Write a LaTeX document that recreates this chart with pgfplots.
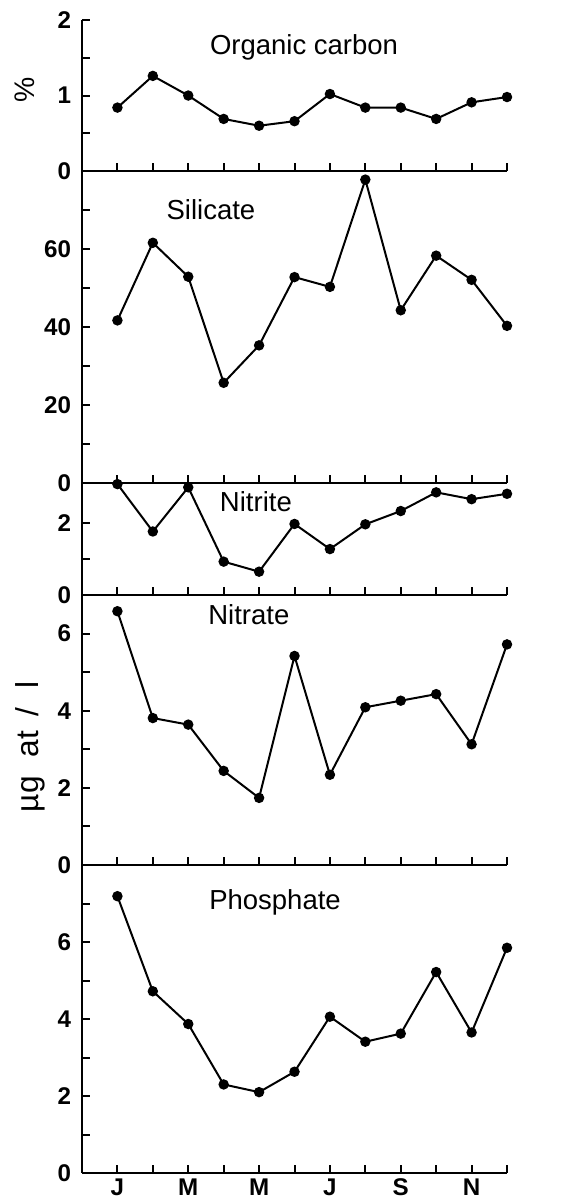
\documentclass[border=0pt]{standalone}
\usepackage{fontspec}
\setmainfont{Liberation Sans}
\usepackage{pgfplots}
\pgfplotsset{compat=1.18}

\pgfplotsset{
  panel/.style={
    scale only axis, width=255pt, xmin=0, xmax=12,
    axis x line*=bottom, axis y line*=left,
    axis line style={line width=1.3pt, black},
    tick style={line width=1.2pt, black},
    major tick length=5pt, minor tick length=5pt,
    tick align=inside,
    xtick={1,...,12}, xticklabels={,,,,,,,,,,,},
    tick label style={font=\fontsize{14.5}{14.5}\selectfont\bfseries},
    yticklabel style={xshift=-3pt},
    /pgf/number format/assume math mode=true,
    clip=false,
  },
  series/.style={black, line width=1.2pt, mark=*, mark size=2.5pt,
    mark options={solid, fill=black}},
}
\tikzset{ttl/.style={font=\fontsize{16.5}{16.5}\selectfont}}

\begin{document}
\begin{tikzpicture}
\useasboundingbox (0pt,0pt) rectangle (339pt,721.8pt);

% Phosphate
\begin{axis}[panel, name=phos, at={(49.2pt,18pt)}, anchor=south west,
  height=184.8pt, ymin=0, ymax=8,
  ytick={0,2,4,6}, yticklabels={0,2,4,6}, minor ytick={1,3,5,7},
  xticklabels={J,,M,,M,,J,,S,,N,}]
\addplot[series] coordinates {(1,7.19) (2,4.72) (3,3.87) (4,2.30) (5,2.10) (6,2.63)
  (7,4.06) (8,3.41) (9,3.62) (10,5.22) (11,3.65) (12,5.85)};
\node[ttl] at (axis cs:5.45,7.04) {Phosphate};
\end{axis}

% Nitrate
\begin{axis}[panel, name=nitra, at={(phos.north west)}, anchor=south west,
  height=162pt, ymin=0, ymax=7,
  ytick={0,2,4,6}, yticklabels={0,2,4,6}, minor ytick={1,3,5}]
\addplot[series] coordinates {(1,6.58) (2,3.81) (3,3.64) (4,2.44) (5,1.74) (6,5.42)
  (7,2.34) (8,4.09) (9,4.26) (10,4.43) (11,3.13) (12,5.72)};
\node[ttl] at (axis cs:4.71,6.48) {Nitrate};
\node[rotate=90, font=\fontsize{19}{19}\selectfont] at (axis cs:-1.45,3.06)
  {µg\hspace{0.6em}at\hspace{0.45em}/\hspace{0.6em}l};
\end{axis}

% Nitrite
\begin{axis}[panel, name=nitri, at={(nitra.north west)}, anchor=south west,
  height=67.2pt, ymin=0, ymax=3.12,
  ytick={0,2}, yticklabels={0,2}, minor ytick={1}]
\addplot[series] coordinates {(1,3.09) (2,1.77) (3,3.00) (4,0.93) (5,0.65) (6,1.98)
  (7,1.28) (8,1.97) (9,2.34) (10,2.86) (11,2.67) (12,2.82)};
\node[ttl] at (axis cs:4.91,2.59) {Nitrite};
\end{axis}

% Silicate
\begin{axis}[panel, name=sil, at={(nitri.north west)}, anchor=south west,
  height=187.2pt, ymin=0, ymax=80,
  ytick={0,20,40,60}, yticklabels={0,20,40,60}, minor ytick={10,30,50,70}]
\addplot[series] coordinates {(1,41.7) (2,61.6) (3,52.9) (4,25.7) (5,35.3) (6,52.8)
  (7,50.3) (8,77.8) (9,44.3) (10,58.3) (11,52.1) (12,40.3)};
\node[ttl] at (axis cs:3.64,70) {Silicate};
\end{axis}

% Organic carbon
\begin{axis}[panel, name=org, at={(sil.north west)}, anchor=south west,
  height=90.6pt, ymin=0, ymax=2,
  ytick={0,1,2}, yticklabels={0,1,2}, minor ytick={0.5,1.5}]
\addplot[series] coordinates {(1,0.84) (2,1.26) (3,1.00) (4,0.69) (5,0.60) (6,0.66)
  (7,1.02) (8,0.84) (9,0.84) (10,0.69) (11,0.91) (12,0.98)};
\node[ttl] at (axis cs:6.27,1.64) {Organic carbon};
\node[rotate=90, font=\fontsize{17}{17}\selectfont] at (axis cs:-1.61,1.07) {\%};
\end{axis}
\end{tikzpicture}
\end{document}
